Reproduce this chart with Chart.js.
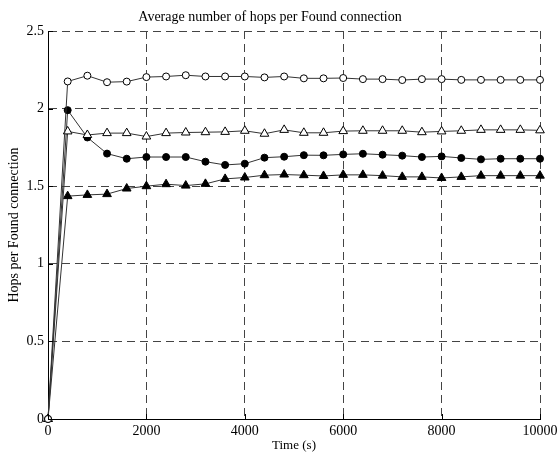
<!DOCTYPE html>
<html lang="en">
<head>
  <meta charset="UTF-8" />
  <title>Average number of hops per Found connection</title>
  <script src="https://cdn.jsdelivr.net/npm/chart.js"></script>
  <style>
    body {
      margin: 0;
      background: #ffffff;
    }

    #hopsChart {
      display: block;
    }
  </style>
</head>
<body>

  <canvas id="hopsChart" width="559" height="455"></canvas>

  <script>
    // time axis (s), one sample every 400 s
    const timeValues = [0, 400, 800, 1200, 1600, 2000, 2400, 2800, 3200, 3600, 4000, 4400, 4800,
      5200, 5600, 6000, 6400, 6800, 7200, 7600, 8000, 8400, 8800, 9200, 9600, 10000];

    const openCircle = [0, 2.175, 2.212, 2.170, 2.174, 2.203, 2.207, 2.215, 2.207, 2.207, 2.207, 2.201, 2.207,
      2.195, 2.195, 2.197, 2.190, 2.190, 2.184, 2.190, 2.190, 2.185, 2.185, 2.185, 2.185, 2.185];

    const openTriangle = [0, 1.853, 1.830, 1.842, 1.842, 1.820, 1.842, 1.846, 1.848, 1.850, 1.857, 1.838, 1.863,
      1.844, 1.844, 1.855, 1.857, 1.857, 1.857, 1.848, 1.853, 1.857, 1.863, 1.863, 1.863, 1.860];

    const filledCircle = [0, 1.990, 1.814, 1.710, 1.677, 1.688, 1.688, 1.688, 1.658, 1.637, 1.645, 1.684, 1.690,
      1.700, 1.699, 1.705, 1.709, 1.703, 1.697, 1.688, 1.692, 1.682, 1.673, 1.677, 1.677, 1.677];

    const filledTriangle = [0, 1.436, 1.444, 1.449, 1.485, 1.500, 1.513, 1.504, 1.515, 1.547, 1.556, 1.571, 1.575,
      1.571, 1.566, 1.573, 1.573, 1.568, 1.560, 1.560, 1.553, 1.560, 1.568, 1.568, 1.568, 1.568];

    const xTicks = [0, 2000, 4000, 6000, 8000, 10000];
    const yTicks = [0, 0.5, 1, 1.5, 2, 2.5];

    const serif = 'Liberation Serif';

    function points(values) {
      return values.map((v, i) => ({ x: timeValues[i], y: v }));
    }

    function series(values, style, fill, radius) {
      return {
        data: points(values),
        borderColor: '#333',
        borderWidth: 1,
        pointStyle: style,
        pointRadius: radius,
        pointHoverRadius: radius,
        pointBorderColor: '#000',
        pointBorderWidth: 1,
        pointBackgroundColor: fill,
        tension: 0,
        clip: false
      };
    }

    // small inward tick marks, like the original plot
    const innerTicks = {
      id: 'innerTicks',
      afterDatasetsDraw(chart) {
        const { ctx, chartArea, scales } = chart;
        ctx.save();
        ctx.strokeStyle = '#000';
        ctx.lineWidth = 1;
        ctx.beginPath();
        xTicks.forEach(t => {
          const px = Math.round(scales.x.getPixelForValue(t)) + 0.5;
          ctx.moveTo(px, chartArea.bottom);
          ctx.lineTo(px, chartArea.bottom - 5);
        });
        yTicks.forEach(t => {
          const py = Math.round(scales.y.getPixelForValue(t)) + 0.5;
          ctx.moveTo(chartArea.left, py);
          ctx.lineTo(chartArea.left + 5, py);
        });
        ctx.stroke();
        ctx.restore();
      }
    };

    new Chart(document.getElementById('hopsChart').getContext('2d'), {
      type: 'line',
      data: {
        datasets: [
          series(openCircle, 'circle', '#fff', 3.5),
          series(openTriangle, 'triangle', '#fff', 5),
          series(filledCircle, 'circle', '#000', 3.5),
          series(filledTriangle, 'triangle', '#000', 5)
        ]
      },
      options: {
        responsive: false,
        animation: false,
        layout: {
          padding: { top: 0, right: 19, bottom: 0, left: 0 }
        },
        plugins: {
          legend: { display: false },
          tooltip: { enabled: false },
          title: {
            display: true,
            text: 'Average number of hops per Found connection',
            color: '#000',
            font: { family: serif, size: 14, weight: 'normal' },
            padding: { top: 8.5, bottom: 5.7 }
          }
        },
        scales: {
          x: {
            type: 'linear',
            min: 0,
            max: 10000,
            afterFit: s => { s.height = 36; s.paddingLeft = 0; s.paddingRight = 0; },
            afterBuildTicks: s => { s.ticks = xTicks.map(v => ({ value: v })); },
            ticks: {
              color: '#000',
              font: { family: serif, size: 14 },
              padding: 4,
              maxRotation: 0,
              callback: v => String(v)
            },
            grid: { color: '#444', lineWidth: 1, drawTicks: false },
            border: { color: '#000', width: 1, dash: [8, 5] },
            title: {
              display: true,
              text: 'Time (s)',
              color: '#000',
              font: { family: serif, size: 13 },
              padding: { top: 0, bottom: 2 }
            }
          },
          y: {
            min: 0,
            max: 2.5,
            afterFit: s => { s.width = 48; },
            afterBuildTicks: s => { s.ticks = yTicks.map(v => ({ value: v })); },
            ticks: {
              color: '#000',
              font: { family: serif, size: 14 },
              padding: 4,
              callback: v => String(v)
            },
            grid: { color: '#444', lineWidth: 1, drawTicks: false },
            border: { color: '#000', width: 1, dash: [8, 5] },
            title: {
              display: true,
              text: 'Hops per Found connection',
              color: '#000',
              font: { family: serif, size: 14 },
              padding: { top: 6, bottom: 0 }
            }
          }
        }
      },
      plugins: [innerTicks]
    });
  </script>
</body>
</html>
